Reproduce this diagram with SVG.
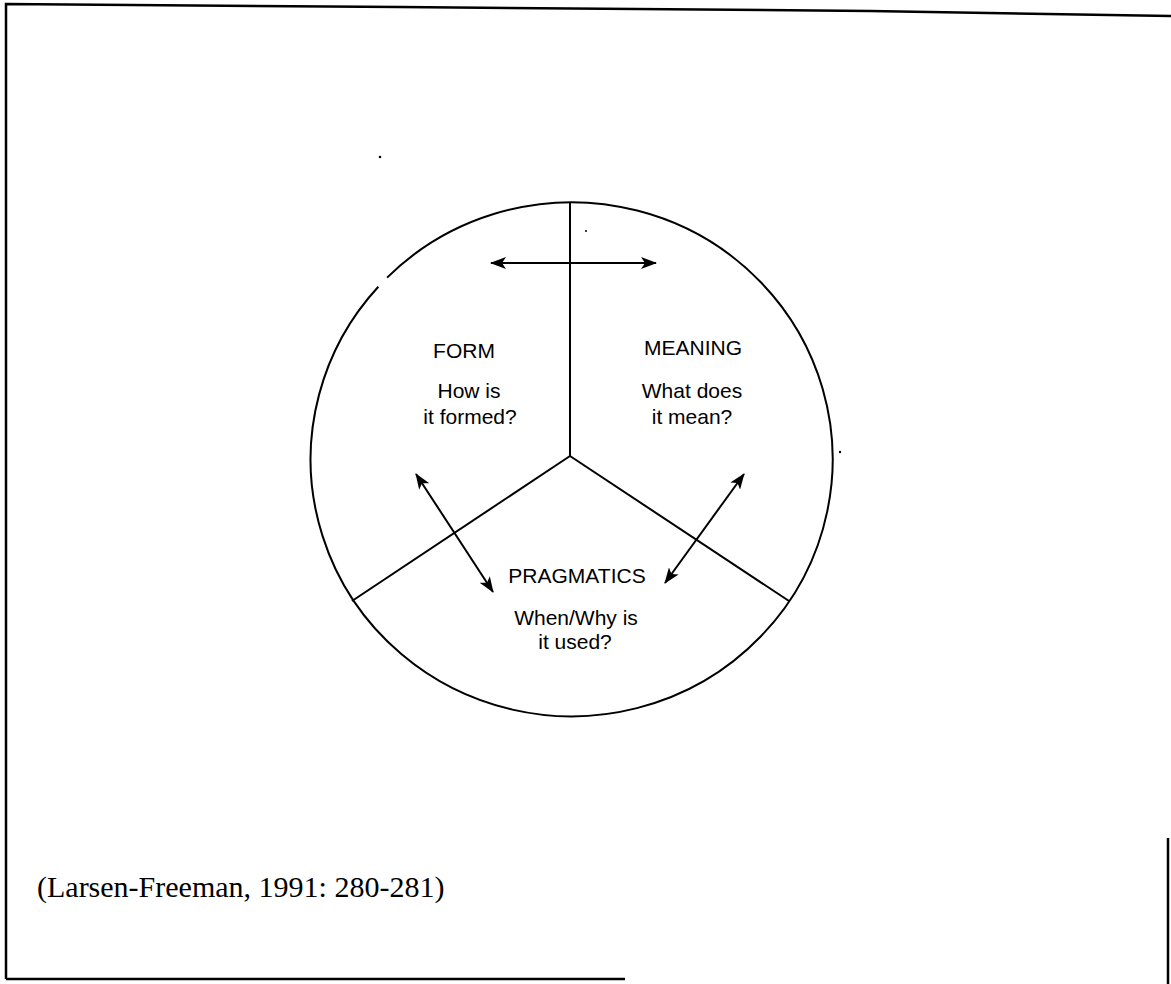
<svg xmlns="http://www.w3.org/2000/svg" width="1171" height="984" viewBox="0 0 1171 984">
<defs>
<marker id="ah" viewBox="0 0 16 12" refX="15" refY="6" markerWidth="16" markerHeight="12" markerUnits="userSpaceOnUse" orient="auto-start-reverse">
<path d="M0,0 L16,6 L0,12 L4,6 Z" fill="#000"/>
</marker>
</defs>
<style>
.ln{stroke:#000;stroke-width:2;fill:none}
.fr{stroke:#000;stroke-width:2.5;fill:none}
.ar{stroke:#000;stroke-width:2;fill:none;marker-start:url(#ah);marker-end:url(#ah)}
.t{font-family:"Liberation Sans",Arial,sans-serif;font-size:21px;fill:#000;text-anchor:middle}
.cap{font-family:"Liberation Serif","Times New Roman",serif;font-size:30px;fill:#000}
</style>
<rect width="1171" height="984" fill="#fff"/>
<g id="frame">
<path class="fr" d="M6,979 L6,4 L400,7 L870,11 L1171,16"/>
<path class="fr" d="M6,979 L625,979"/>
<path class="fr" d="M1168,838 L1168,984"/>
</g>
<g id="circle">
<path class="ln" d="M387.1,277.6 A261,257 0 1 1 378.3,286.7"/>
</g>
<g id="connectors">
<line class="ln" x1="570" y1="203" x2="570" y2="456"/>
<line class="ln" x1="570" y1="456" x2="352" y2="601"/>
<line class="ln" x1="570" y1="456" x2="789" y2="601"/>
<line class="ar" x1="491" y1="263" x2="656" y2="263"/>
<line class="ar" x1="416" y1="474" x2="493" y2="592"/>
<line class="ar" x1="744" y1="474" x2="665" y2="583"/>
</g>
<g id="form">
<text class="t" x="464" y="358">FORM</text>
<text class="t" x="469" y="398">How is</text>
<text class="t" x="470" y="424">it formed?</text>
</g>
<g id="meaning">
<text class="t" x="693" y="355">MEANING</text>
<text class="t" x="692" y="398">What does</text>
<text class="t" x="692" y="424">it mean?</text>
</g>
<g id="pragmatics">
<text class="t" x="577" y="583">PRAGMATICS</text>
<text class="t" x="576" y="625">When/Why is</text>
<text class="t" x="575" y="649">it used?</text>
</g>
<g id="caption">
<text class="cap" x="37" y="897">(Larsen-Freeman, 1991: 280-281)</text>
</g>
<g id="specks" fill="#000">
<circle cx="380" cy="157" r="1.3"/>
<circle cx="840" cy="452" r="1.2"/>
<circle cx="586" cy="231" r="1"/>
</g>
</svg>
